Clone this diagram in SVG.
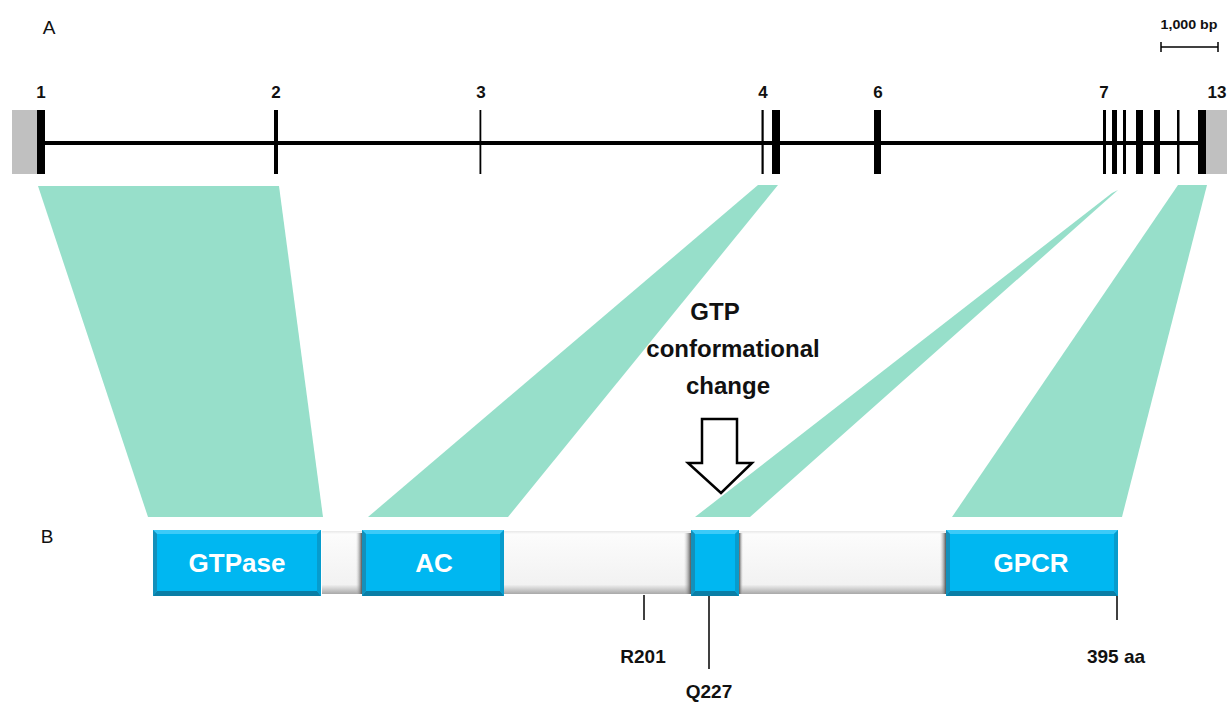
<svg xmlns="http://www.w3.org/2000/svg" width="1229" height="704" viewBox="0 0 1229 704">
<defs>
<style>
.lbl{font-family:"Liberation Sans",Arial,sans-serif;font-weight:bold;fill:#111;text-anchor:middle}
.ex{fill:#000}
.utr{fill:#c0c0c0}
.teal{fill:#97dfca}
.blue{fill:#00b7f1}
.bt{fill:#3ccaf8}
.bb{fill:#0a7ea6}
.bl{fill:#1390bb}
.br{fill:#079ccd}
.grey{fill:url(#gg)}
.shadow{fill:url(#sh)}
.bx{font-family:"Liberation Sans",Arial,sans-serif;font-weight:bold;fill:#fff;font-size:26px;text-anchor:middle}
.tick{stroke:#000;stroke-width:1.5}
</style>
<linearGradient id="gg" x1="0" y1="0" x2="0" y2="1">
<stop offset="0" stop-color="#e8e8e8"/>
<stop offset="0.05" stop-color="#fcfcfc"/>
<stop offset="0.85" stop-color="#f2f2f2"/>
<stop offset="1" stop-color="#a8a8a8"/>
</linearGradient>
<linearGradient id="sh" x1="0" y1="0" x2="1" y2="0">
<stop offset="0" stop-color="#bbbbbb" stop-opacity="0"/>
<stop offset="1" stop-color="#555555"/>
</linearGradient>
</defs>
<rect width="1229" height="704" fill="#ffffff"/>

<g id="panel-labels">
<text x="49" y="34" font-family="Liberation Sans,Arial,sans-serif" font-size="19" fill="#111" text-anchor="middle">A</text>
<text x="47" y="543" font-family="Liberation Sans,Arial,sans-serif" font-size="19" fill="#111" text-anchor="middle">B</text>
</g>

<g id="scale-bar">
<text class="lbl" x="1189" y="29" font-size="13" textLength="57" lengthAdjust="spacingAndGlyphs">1,000 bp</text>
<line x1="1161" y1="47" x2="1218" y2="47" stroke="#000" stroke-width="1.5"/>
<line x1="1161" y1="42" x2="1161" y2="52" stroke="#000" stroke-width="1.5"/>
<line x1="1218" y1="42" x2="1218" y2="52" stroke="#000" stroke-width="1.5"/>
</g>

<g id="mappings">
<polygon class="teal" points="38,186 279,186 323,517 148,517"/>
<polygon class="teal" points="758,185 778,185 508,517 368,517"/>
<polygon class="teal" points="1112,193 1118,190 750,517 695,517"/>
<polygon class="teal" points="1178,185 1207,185 1122,517 952,517"/>
</g>

<g id="gene">
<rect class="utr" x="12" y="110" width="25" height="64"/>
<rect class="utr" x="1206" y="110" width="21" height="64"/>
<line x1="44" y1="143" x2="1200" y2="143" stroke="#000" stroke-width="4"/>
<rect class="ex" x="37" y="110" width="8" height="64"/>
<rect class="ex" x="274" y="110" width="4" height="64"/>
<rect class="ex" x="479.5" y="110" width="1.8" height="64"/>
<rect class="ex" x="761.5" y="110" width="2.2" height="64"/>
<rect class="ex" x="772" y="110" width="8" height="64"/>
<rect class="ex" x="874" y="110" width="7" height="64"/>
<rect class="ex" x="1103" y="110" width="3" height="64"/>
<rect class="ex" x="1112" y="110" width="5" height="64"/>
<rect class="ex" x="1123" y="110" width="3" height="64"/>
<rect class="ex" x="1136" y="110" width="7" height="64"/>
<rect class="ex" x="1154" y="110" width="6" height="64"/>
<rect class="ex" x="1177" y="110" width="2.5" height="64"/>
<rect class="ex" x="1198" y="110" width="8" height="64"/>
</g>

<g id="exon-numbers" class="lbl" font-size="17">
<text x="41" y="98">1</text>
<text x="276" y="98">2</text>
<text x="481" y="98">3</text>
<text x="763" y="98">4</text>
<text x="878" y="98">6</text>
<text x="1104" y="98">7</text>
<text x="1217" y="98">13</text>
</g>

<g id="gtp-note">
<text class="lbl" x="715" y="320" font-size="24">GTP</text>
<text class="lbl" x="733" y="357" font-size="24">conformational</text>
<text class="lbl" x="728" y="394" font-size="24">change</text>
<polygon points="702,419 737,419 737,463 752,463 721,493 688,463 702,463" fill="#fff" stroke="#000" stroke-width="2.5" stroke-linejoin="miter"/>
</g>

<g id="protein">
<g id="linker1">
<rect class="grey" x="322" y="531" width="40" height="63"/>
</g>
<g id="linker2">
<rect class="grey" x="504" y="531" width="188" height="63"/>
</g>
<g id="linker3">
<rect class="grey" x="739" y="531" width="208" height="63"/>
</g>

<g id="gtpase">
<rect class="blue" x="153" y="530" width="168" height="66"/>
<polygon class="bt" points="153,530 321,530 317,534 157,534"/>
<polygon class="bb" points="153,596 321,596 317,591 157,591"/>
<polygon class="bl" points="153,530 157,534 157,591 153,596"/>
<polygon class="br" points="321,530 317,534 317,591 321,596"/>
<text class="bx" x="237" y="572">GTPase</text>
</g>

<g id="ac">
<rect class="shadow" x="356" y="533" width="6" height="61"/>
<rect class="blue" x="362" y="530" width="142" height="66"/>
<polygon class="bt" points="362,530 504,530 500,534 366,534"/>
<polygon class="bb" points="362,596 504,596 500,591 366,591"/>
<polygon class="bl" points="362,530 366,534 366,591 362,596"/>
<polygon class="br" points="504,530 500,534 500,591 504,596"/>
<text class="bx" x="434" y="572">AC</text>
</g>

<g id="switch">
<rect class="shadow" x="684" y="533" width="7" height="61"/>
<rect class="blue" x="691" y="530" width="48" height="66"/>
<polygon class="bt" points="691,530 739,530 735,534 695,534"/>
<polygon class="bb" points="691,596 739,596 735,591 695,591"/>
<polygon class="bl" points="691,530 695,534 695,591 691,596"/>
<polygon class="br" points="739,530 735,534 735,591 739,596"/>
</g>
<rect class="shadow" x="739" y="533" width="4" height="61" transform="matrix(-1,0,0,1,1482,0)"/>

<g id="gpcr">
<rect class="shadow" x="940" y="533" width="6" height="61"/>
<rect class="blue" x="946" y="530" width="172" height="66"/>
<polygon class="bt" points="946,530 1118,530 1114,534 950,534"/>
<polygon class="bb" points="946,596 1118,596 1114,591 950,591"/>
<polygon class="bl" points="946,530 950,534 950,591 946,596"/>
<polygon class="br" points="1118,530 1114,534 1114,591 1118,596"/>
<text class="bx" x="1031" y="572">GPCR</text>
</g>
</g>

<g id="sites">
<line class="tick" x1="644" y1="595" x2="644" y2="620"/>
<line class="tick" x1="709" y1="596" x2="709" y2="669"/>
<line class="tick" x1="1117" y1="596" x2="1117" y2="620"/>
<text class="lbl" x="643" y="663" font-size="19">R201</text>
<text class="lbl" x="709" y="698" font-size="19">Q227</text>
<text class="lbl" x="1116" y="663" font-size="19">395 aa</text>
</g>
</svg>
